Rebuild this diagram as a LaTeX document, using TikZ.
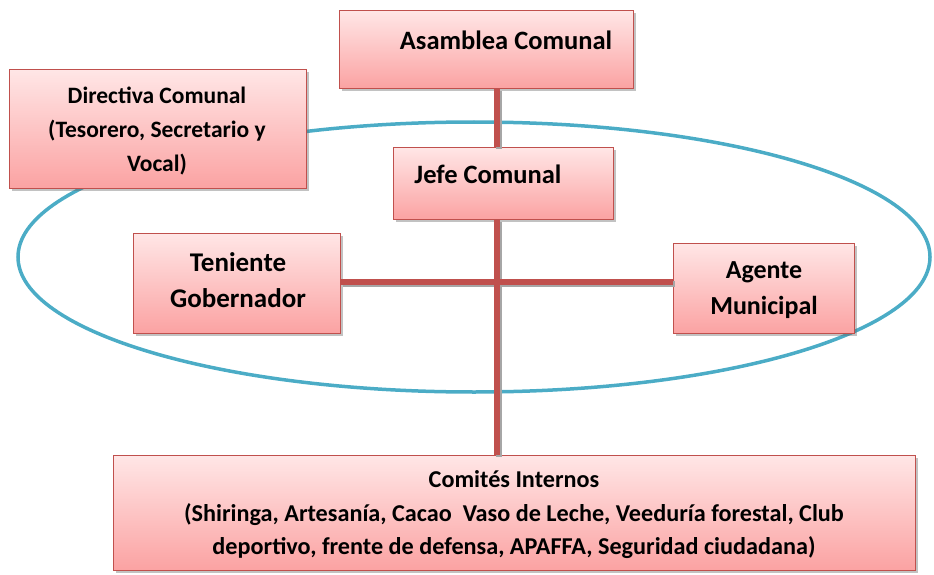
\documentclass[tikz,border=0pt]{standalone}
\usepackage{fontspec}
\setmainfont{Carlito}
\usetikzlibrary{shadows}
\definecolor{boxborder}{HTML}{C0504D}
\definecolor{boxtop}{HTML}{FFE6E6}
\definecolor{boxbot}{HTML}{FBA2A2}
\definecolor{connred}{HTML}{C0504D}
\definecolor{ellblue}{HTML}{4BACC6}
\tikzset{
  box/.style={draw=boxborder, line width=1.4pt, top color=boxtop, bottom color=boxbot,
    drop shadow={opacity=0.4, shadow xshift=2.5pt, shadow yshift=-2.5pt, fill=black!60},
    inner sep=0pt, anchor=north west},
  txt/.style={font=\bfseries, align=center, inner sep=0pt},
  conn/.style={draw=connred, line width=5.5pt},
  connshadow/.style={draw=black!35, line width=5.5pt},
  ell/.style={draw=ellblue, line width=3.5pt}
}
\begin{document}
\begin{tikzpicture}[x=1pt,y=-1pt]
\useasboundingbox (0,0) rectangle (934,575);
% ellipse
\draw[ell] (474,257) ellipse [x radius=456, y radius=135];
% junction
\coordinate (jx) at (497,282);
% boxes
\node[box, minimum width=294pt, minimum height=78pt] (asam) at (339,10) {};
\node[box, minimum width=297pt, minimum height=119pt] (dir) at (9,69) {};
\node[box, minimum width=220pt, minimum height=72pt] (jefe) at (393,147) {};
\node[box, minimum width=207pt, minimum height=100pt] (ten) at (133,233) {};
\node[box, minimum width=181pt, minimum height=90pt] (age) at (673,243) {};
\node[box, minimum width=802pt, minimum height=115pt] (com) at (113,455) {};
% connectors (shadow then line)
\begin{scope}[transform canvas={xshift=2pt,yshift=-2pt}]
\draw[connshadow] (asam.south -| jx) -- (jefe.north -| jx);
\draw[connshadow] (jefe.south -| jx) -- (jx) -- (com.north -| jx);
\draw[connshadow] (ten.east |- jx) -- (jx) -- (age.west |- jx);
\end{scope}
\draw[conn] (asam.south -| jx) -- (jefe.north -| jx);
\draw[conn] (jefe.south -| jx) -- (jx) -- (com.north -| jx);
\draw[conn] (ten.east |- jx) -- (jx) -- (age.west |- jx);
% texts
\node[txt, font=\bfseries\fontsize{26.5}{30}\selectfont] (asamT) at (506,40) {Asamblea Comunal};
\node[txt, font=\bfseries\fontsize{26.5}{30}\selectfont] (jefeT) at (488,174) {Jefe Comunal};
\node[txt, font=\bfseries\fontsize{23.5}{34}\selectfont] (dirT) at (157,131) {Directiva Comunal\\(Tesorero, Secretario y\\Vocal)};
\node[txt, font=\bfseries\fontsize{27}{36}\selectfont] (tenT) at (238,280) {Teniente\\Gobernador};
\node[txt, font=\bfseries\fontsize{26}{36}\selectfont] (ageT) at (764,290) {Agente\\Municipal};
\node[txt, font=\bfseries\fontsize{24.2}{33.5}\selectfont] (comT) at (514,515) {Comités Internos\\(Shiringa, Artesanía, Cacao\ \ Vaso de Leche, Veeduría forestal, Club\\deportivo, frente de defensa, APAFFA, Seguridad ciudadana)};
\end{tikzpicture}
\end{document}
